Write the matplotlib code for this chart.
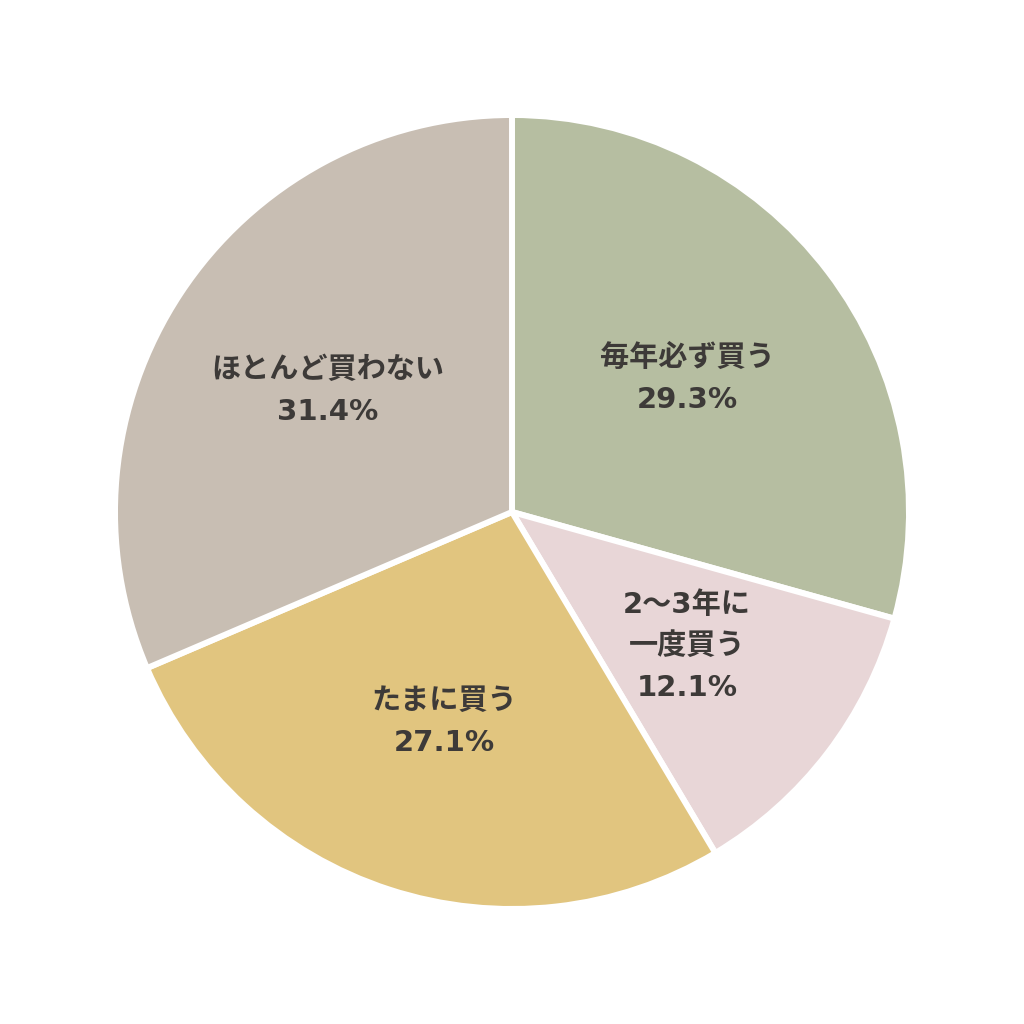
import matplotlib
matplotlib.use("Agg")
import matplotlib.pyplot as plt
import numpy as np

plt.rcParams['font.family'] = ['DejaVu Sans', 'Noto Sans CJK JP']

categories = ["毎年必ず買う", "2〜3年に\n一度買う", "たまに買う", "ほとんど買わない"]
values = [29.3, 12.1, 27.1, 31.4]
colors = ["#b6bea1", "#e8d6d7", "#e1c57f", "#c8beb3"]
text_color = "#3d3a38"

fig = plt.figure(figsize=(10.24, 10.24), dpi=100)
ax = fig.add_axes([0, 0, 1, 1])
wedges, _ = ax.pie(values, colors=colors, startangle=90, counterclock=False,
                   wedgeprops=dict(edgecolor="white", linewidth=4.3))
line_px = 41
for w, c, v in zip(wedges, categories, values):
    ang = np.deg2rad((w.theta1 + w.theta2) / 2)
    x, y = 0.555 * np.cos(ang), 0.555 * np.sin(ang)
    lines = c.split("\n")
    n = len(lines) + 1
    for i, ln in enumerate(lines):
        off = ((n - 1) / 2 - i) * line_px
        ax.annotate(ln, (x, y), xytext=(0, off), textcoords="offset pixels",
                    ha="center", va="center", fontsize=21, fontweight="bold",
                    color=text_color)
    off = ((n - 1) / 2 - (n - 1)) * line_px
    ax.annotate(f"{v:.1f}%", (x, y), xytext=(0, off - 1), textcoords="offset pixels",
                ha="center", va="center", fontsize=21, fontweight="bold",
                color=text_color)
lim = 512 / 397
ax.set_xlim(-lim, lim)
ax.set_ylim(-lim, lim)
ax.set_aspect("equal")
ax.axis("off")
fig.savefig("out.png", dpi=100, facecolor="white")
